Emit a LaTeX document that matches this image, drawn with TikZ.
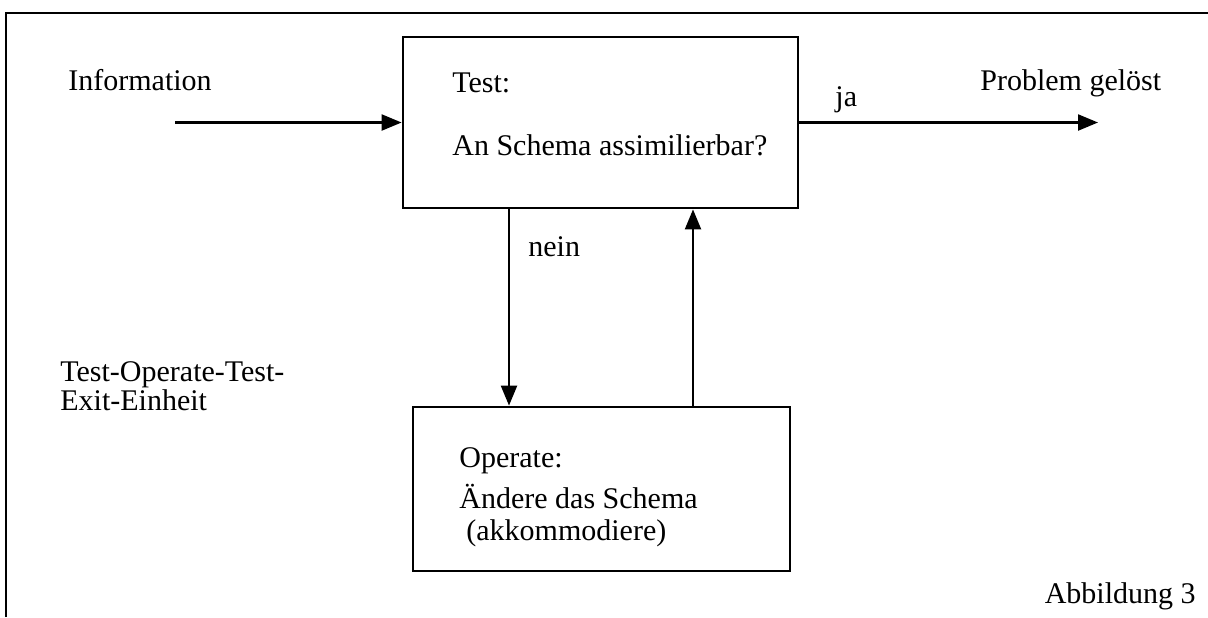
\documentclass[tikz,border=0pt]{standalone}
\usepackage{fontspec}
\setmainfont{Liberation Serif}
\usetikzlibrary{arrows.meta}
\begin{document}
\begin{tikzpicture}[x=0.5pt,y=-0.5pt,
  lbl/.style={anchor=base west,inner sep=0pt,font=\fontsize{15}{17}\selectfont},
  boxline/.style={draw,line width=1.4pt,inner sep=0pt},
  flow/.style={line width=1.1pt,-{Triangle[length=10pt,width=8pt]}}]
\useasboundingbox (0,0) rectangle (1208,617);
% open frame: top and left edges
\draw[line width=1.4pt] (6,617) -- (6,13) -- (1208,13);

% the two boxes
\node[boxline,minimum width=197.5pt,minimum height=85.5pt] (test) at (600.5,122.5) {};
\node[boxline,minimum width=188.5pt,minimum height=82pt] (op) at (601.5,489) {};

% anchors for the free arrow ends and the vertical arrows
\coordinate (inS) at (175,122.5);
\coordinate (outE) at (1098,0);
\coordinate (nx) at (509,0);
\coordinate (ux) at (693,0);

\draw[flow] (inS) -- (test.west);
\draw[flow] (test.east) -- (test.east -| outE);
\draw[flow] (test.south -| nx) -- (op.north -| nx);
\draw[flow] (op.north -| ux) -- (test.south -| ux);

% labels
\node[lbl] (info) at (68,90) {Information};
\node[lbl] (solved) at (980,90) {Problem gelöst};
\node[lbl] (ja) at (835,106) {ja};
\node[lbl] (nein) at (528,256) {nein};
\node[lbl] (t1) at (452,92) {Test:};
\node[lbl] (t2) at (452,155) {An Schema assimilierbar?};
\node[lbl] (o1) at (459,467) {Operate:};
\node[lbl] (o2) at (459,508) {Ändere das Schema};
\node[lbl] (o3) at (466,540) {(akkommodiere)};
\node[lbl] (tote1) at (60,381) {Test-Operate-Test-};
\node[lbl] (tote2) at (60,410) {Exit-Einheit};
\node[anchor=base east,inner sep=0pt,font=\fontsize{15}{17}\selectfont] (fig) at (1196,603) {Abbildung 3};
\end{tikzpicture}
\end{document}
